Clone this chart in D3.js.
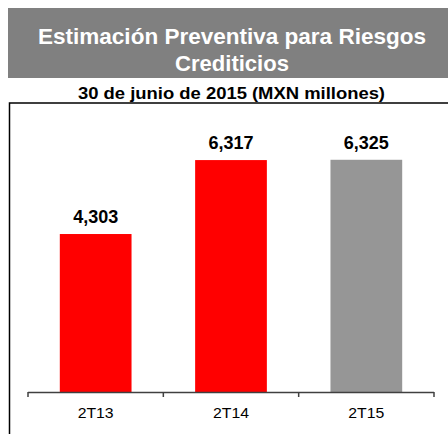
<!DOCTYPE html>
<html><head><meta charset="utf-8">
<script src="https://cdn.jsdelivr.net/npm/d3@7"></script>
<style>body{margin:0;background:#fff}svg{display:block}</style>
</head><body>
<script>
const categories = ["2T13", "2T14", "2T15"];
const values = [4303, 6317, 6325];
const barColors = ["#ff0000", "#ff0000", "#969696"];
const titleLines = ["Estimación Preventiva para Riesgos", "Crediticios"];
const subtitle = "30 de junio de 2015 (MXN millones)";

const W = 448, H = 434;
const svg = d3.select("body").append("svg").attr("width", W).attr("height", H);
const font = "Liberation Sans, Arial, sans-serif";

// title box
svg.append("rect").attr("x", 8).attr("y", 8).attr("width", W - 8).attr("height", 70).attr("fill", "#808080");
const tl = svg.selectAll("text.title").data(titleLines).join("text").attr("class", "title")
  .attr("x", 232).attr("y", (d, i) => 44 + i * 27)
  .attr("text-anchor", "middle").attr("fill", "#fff")
  .attr("font-family", font).attr("font-weight", "bold").attr("font-size", 21.5)
  .text(d => d);
tl.filter((d, i) => i === 0).attr("textLength", 388).attr("lengthAdjust", "spacingAndGlyphs");
tl.filter((d, i) => i === 1).attr("textLength", 114).attr("lengthAdjust", "spacingAndGlyphs");
svg.append("text").attr("x", 231.5).attr("y", 99).attr("text-anchor", "middle")
  .attr("font-family", font).attr("font-weight", "bold").attr("font-size", 16).attr("fill", "#000")
  .attr("textLength", 307).attr("lengthAdjust", "spacingAndGlyphs")
  .text(subtitle);

// frame
svg.append("path").attr("d", `M9.5,${H} V103 H${W}`).attr("fill", "none").attr("stroke", "#000").attr("stroke-width", 1.5);

const x = d3.scaleBand().domain(categories).range([28, 434]).paddingInner(0.47).paddingOuter(0.235);
const y = d3.scaleLinear().domain([0, 7000]).range([392, 135]);

svg.selectAll("rect.bar").data(values).join("rect").attr("class", "bar")
  .attr("x", (d, i) => x(categories[i])).attr("width", x.bandwidth())
  .attr("y", d => y(d)).attr("height", d => y(0) - y(d))
  .attr("fill", (d, i) => barColors[i]);

svg.selectAll("text.val").data(values).join("text").attr("class", "val")
  .attr("x", (d, i) => x(categories[i]) + x.bandwidth() / 2)
  .attr("y", d => y(d) - 11)
  .attr("text-anchor", "middle").attr("font-family", font).attr("font-weight", "bold").attr("font-size", 18)
  .text(d => d3.format(",")(d));

const ax = d3.scaleLinear().domain([0, 3]).range([28, 434]);
const axis = svg.append("g").attr("stroke", "#404040").attr("stroke-width", 1.5);
axis.append("line").attr("x1", 28).attr("x2", 434).attr("y1", 392.5).attr("y2", 392.5);
axis.selectAll("line.tick").data(d3.range(4)).join("line").attr("class", "tick")
  .attr("x1", d => ax(d)).attr("x2", d => ax(d)).attr("y1", 392).attr("y2", 397);

svg.selectAll("text.cat").data(categories).join("text").attr("class", "cat")
  .attr("x", d => x(d) + x.bandwidth() / 2).attr("y", 418)
  .attr("text-anchor", "middle").attr("font-family", font).attr("font-size", 15).attr("fill", "#000")
  .attr("textLength", 36).attr("lengthAdjust", "spacingAndGlyphs")
  .text(d => d);
</script>
</body></html>
